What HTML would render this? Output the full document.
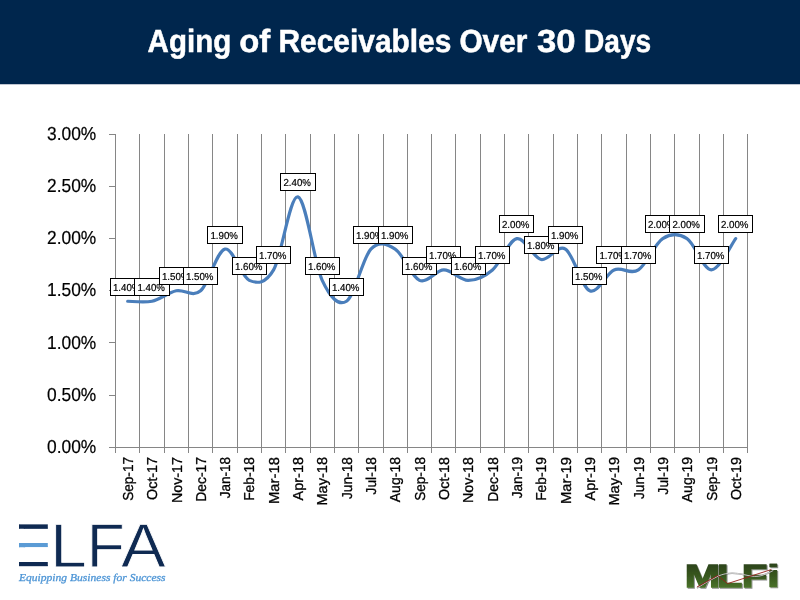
<!DOCTYPE html>
<html lang="en"><head><meta charset="utf-8">
<title>Aging of Receivables Over 30 Days</title>
<style>
html,body{margin:0;padding:0;background:#fff;}
body{width:800px;height:600px;overflow:hidden;position:relative;font-family:"Liberation Sans",sans-serif;}
#hdr{position:absolute;left:0;top:0;width:800px;height:84px;background:#00264d;}
svg{position:absolute;left:0;top:0;will-change:transform;}
svg text{font-family:"Liberation Sans",sans-serif;text-rendering:geometricPrecision;}
.ttl{font-weight:bold;font-size:32px;fill:#fff;stroke:#fff;stroke-width:0.5px;}
.yl{font-size:18.8px;fill:#000;stroke:#000;stroke-width:0.2px;}
.xl{font-size:14.4px;fill:#000;stroke:#000;stroke-width:0.3px;}
.dl{font-size:10.1px;fill:#000;stroke:#000;stroke-width:0.2px;}
.tag{font-family:"Liberation Serif",serif;font-style:italic;font-size:10.6px;fill:#4f96d6;stroke:#4f96d6;stroke-width:0.3px;}
</style></head><body>
<div id="hdr"></div>
<svg width="800" height="600" viewBox="0 0 800 600">
<rect x="0" y="84" width="800" height="1" fill="#8a96ab" opacity="0.55"/>
<g class="ttl">
<text x="147.6" y="52.1" textLength="83.6" lengthAdjust="spacingAndGlyphs">Aging</text>
<text x="239.2" y="52.1" textLength="31" lengthAdjust="spacingAndGlyphs">of</text>
<text x="278.4" y="52.1" textLength="173" lengthAdjust="spacingAndGlyphs">Receivables</text>
<text x="459.4" y="52.1" textLength="68" lengthAdjust="spacingAndGlyphs">Over</text>
<text x="537" y="52.1" textLength="38.6" lengthAdjust="spacingAndGlyphs">30</text>
<text x="584" y="52.1" textLength="67.2" lengthAdjust="spacingAndGlyphs">Days</text>
</g>
<g stroke="#868686" stroke-width="1" fill="none" shape-rendering="crispEdges">
<path d="M115.5 134V452.5M139.5 134V452.5M164.5 134V452.5M188.5 134V452.5M212.5 134V452.5M237.5 134V452.5M261.5 134V452.5M285.5 134V452.5M310.5 134V452.5M334.5 134V452.5M358.5 134V452.5M383.5 134V452.5M407.5 134V452.5M431.5 134V452.5M455.5 134V452.5M480.5 134V452.5M504.5 134V452.5M528.5 134V452.5M553.5 134V452.5M577.5 134V452.5M601.5 134V452.5M626.5 134V452.5M650.5 134V452.5M674.5 134V452.5M699.5 134V452.5M723.5 134V452.5M747.5 134V452.5"/>
<path d="M109 447.5H748"/>
<path d="M109 134.5H115.5M109 186.5H115.5M109 238.5H115.5M109 290.5H115.5M109 342.5H115.5M109 395.5H115.5"/>
</g>
<g class="yl" text-anchor="end">
<text x="96.3" y="139.9" textLength="49.2" lengthAdjust="spacingAndGlyphs">3.00%</text>
<text x="96.3" y="192.07" textLength="49.2" lengthAdjust="spacingAndGlyphs">2.50%</text>
<text x="96.3" y="244.23" textLength="49.2" lengthAdjust="spacingAndGlyphs">2.00%</text>
<text x="96.3" y="296.4" textLength="49.2" lengthAdjust="spacingAndGlyphs">1.50%</text>
<text x="96.3" y="348.57" textLength="49.2" lengthAdjust="spacingAndGlyphs">1.00%</text>
<text x="96.3" y="400.73" textLength="49.2" lengthAdjust="spacingAndGlyphs">0.50%</text>
<text x="96.3" y="452.9" textLength="49.2" lengthAdjust="spacingAndGlyphs">0.00%</text>
</g>
<g class="xl" text-anchor="end">
<text transform="translate(132.86 457.0) rotate(-90)" textLength="43.85" lengthAdjust="spacingAndGlyphs">Sep-17</text>
<text transform="translate(157.18 457.0) rotate(-90)" textLength="42.88" lengthAdjust="spacingAndGlyphs">Oct-17</text>
<text transform="translate(181.5 457.0) rotate(-90)" textLength="46.09" lengthAdjust="spacingAndGlyphs">Nov-17</text>
<text transform="translate(205.82 457.0) rotate(-90)" textLength="44.7" lengthAdjust="spacingAndGlyphs">Dec-17</text>
<text transform="translate(230.14 457.0) rotate(-90)" textLength="41.36" lengthAdjust="spacingAndGlyphs">Jan-18</text>
<text transform="translate(254.46 457.0) rotate(-90)" textLength="43.85" lengthAdjust="spacingAndGlyphs">Feb-18</text>
<text transform="translate(278.78 457.0) rotate(-90)" textLength="47" lengthAdjust="spacingAndGlyphs">Mar-18</text>
<text transform="translate(303.1 457.0) rotate(-90)" textLength="43.4" lengthAdjust="spacingAndGlyphs">Apr-18</text>
<text transform="translate(327.42 457.0) rotate(-90)" textLength="48.62" lengthAdjust="spacingAndGlyphs">May-18</text>
<text transform="translate(351.74 457.0) rotate(-90)" textLength="42.08" lengthAdjust="spacingAndGlyphs">Jun-18</text>
<text transform="translate(376.06 457.0) rotate(-90)" textLength="37.45" lengthAdjust="spacingAndGlyphs">Jul-18</text>
<text transform="translate(400.38 457.0) rotate(-90)" textLength="45.31" lengthAdjust="spacingAndGlyphs">Aug-18</text>
<text transform="translate(424.7 457.0) rotate(-90)" textLength="43.85" lengthAdjust="spacingAndGlyphs">Sep-18</text>
<text transform="translate(449.02 457.0) rotate(-90)" textLength="42.88" lengthAdjust="spacingAndGlyphs">Oct-18</text>
<text transform="translate(473.34 457.0) rotate(-90)" textLength="46.09" lengthAdjust="spacingAndGlyphs">Nov-18</text>
<text transform="translate(497.66 457.0) rotate(-90)" textLength="44.7" lengthAdjust="spacingAndGlyphs">Dec-18</text>
<text transform="translate(521.98 457.0) rotate(-90)" textLength="41.36" lengthAdjust="spacingAndGlyphs">Jan-19</text>
<text transform="translate(546.3 457.0) rotate(-90)" textLength="43.85" lengthAdjust="spacingAndGlyphs">Feb-19</text>
<text transform="translate(570.62 457.0) rotate(-90)" textLength="47" lengthAdjust="spacingAndGlyphs">Mar-19</text>
<text transform="translate(594.94 457.0) rotate(-90)" textLength="43.4" lengthAdjust="spacingAndGlyphs">Apr-19</text>
<text transform="translate(619.26 457.0) rotate(-90)" textLength="48.62" lengthAdjust="spacingAndGlyphs">May-19</text>
<text transform="translate(643.58 457.0) rotate(-90)" textLength="42.08" lengthAdjust="spacingAndGlyphs">Jun-19</text>
<text transform="translate(667.9 457.0) rotate(-90)" textLength="37.45" lengthAdjust="spacingAndGlyphs">Jul-19</text>
<text transform="translate(692.22 457.0) rotate(-90)" textLength="45.31" lengthAdjust="spacingAndGlyphs">Aug-19</text>
<text transform="translate(716.54 457.0) rotate(-90)" textLength="43.85" lengthAdjust="spacingAndGlyphs">Sep-19</text>
<text transform="translate(740.86 457.0) rotate(-90)" textLength="42.88" lengthAdjust="spacingAndGlyphs">Oct-19</text>
</g>
<path d="M127.66 301.23C131.71 301.23 143.87 302.97 151.98 301.23C160.09 299.49 168.19 292.54 176.3 290.8C184.41 289.06 192.51 297.76 200.62 290.8C208.73 283.84 216.83 250.81 224.94 249.07C233.05 247.33 241.15 276.89 249.26 280.37C257.37 283.84 265.47 283.84 273.58 269.93C281.69 256.02 289.79 195.16 297.9 196.9C306.01 198.64 314.11 262.98 322.22 280.37C330.33 297.76 338.43 306.45 346.54 301.23C354.65 296.02 362.75 257.76 370.86 249.07C378.97 240.37 387.07 243.85 395.18 249.07C403.29 254.28 411.39 276.89 419.5 280.37C427.61 283.84 435.71 269.93 443.82 269.93C451.93 269.93 460.03 280.37 468.14 280.37C476.25 280.37 484.35 276.89 492.46 269.93C500.57 262.98 508.67 240.37 516.78 238.63C524.89 236.89 532.99 257.76 541.1 259.5C549.21 261.24 557.31 243.85 565.42 249.07C573.53 254.28 581.63 287.32 589.74 290.8C597.85 294.28 605.95 273.41 614.06 269.93C622.17 266.46 630.27 275.15 638.38 269.93C646.49 264.72 654.59 243.85 662.7 238.63C670.81 233.42 678.91 233.42 687.02 238.63C695.13 243.85 703.23 269.93 711.34 269.93C719.45 269.93 731.61 243.85 735.66 238.63" fill="none" stroke="#4a7ebb" stroke-width="3.2" stroke-linecap="round" stroke-linejoin="round"/>
<g class="dl" text-anchor="middle">
<rect x="110.5" y="278.5" width="34" height="17" fill="#fff" stroke="#000" stroke-width="1"/>
<text x="126.7" y="291.3" textLength="27.6" lengthAdjust="spacingAndGlyphs">1.40%</text>
<rect x="134.5" y="278.5" width="35" height="17" fill="#fff" stroke="#000" stroke-width="1"/>
<text x="151.2" y="291.3" textLength="27.6" lengthAdjust="spacingAndGlyphs">1.40%</text>
<rect x="159.5" y="267.5" width="34" height="17" fill="#fff" stroke="#000" stroke-width="1"/>
<text x="175.7" y="280.3" textLength="27.6" lengthAdjust="spacingAndGlyphs">1.50%</text>
<rect x="183.5" y="267.5" width="34" height="17" fill="#fff" stroke="#000" stroke-width="1"/>
<text x="199.7" y="280.3" textLength="27.6" lengthAdjust="spacingAndGlyphs">1.50%</text>
<rect x="207.5" y="226.5" width="35" height="17" fill="#fff" stroke="#000" stroke-width="1"/>
<text x="224.2" y="239.3" textLength="27.6" lengthAdjust="spacingAndGlyphs">1.90%</text>
<rect x="232.5" y="257.5" width="34" height="17" fill="#fff" stroke="#000" stroke-width="1"/>
<text x="248.7" y="270.3" textLength="27.6" lengthAdjust="spacingAndGlyphs">1.60%</text>
<rect x="256.5" y="246.5" width="34" height="17" fill="#fff" stroke="#000" stroke-width="1"/>
<text x="272.7" y="259.3" textLength="27.6" lengthAdjust="spacingAndGlyphs">1.70%</text>
<rect x="280.5" y="173.5" width="35" height="17" fill="#fff" stroke="#000" stroke-width="1"/>
<text x="297.2" y="186.3" textLength="27.6" lengthAdjust="spacingAndGlyphs">2.40%</text>
<rect x="305.5" y="257.5" width="34" height="17" fill="#fff" stroke="#000" stroke-width="1"/>
<text x="321.7" y="270.3" textLength="27.6" lengthAdjust="spacingAndGlyphs">1.60%</text>
<rect x="329.5" y="278.5" width="34" height="17" fill="#fff" stroke="#000" stroke-width="1"/>
<text x="345.7" y="291.3" textLength="27.6" lengthAdjust="spacingAndGlyphs">1.40%</text>
<rect x="353.5" y="226.5" width="34" height="17" fill="#fff" stroke="#000" stroke-width="1"/>
<text x="369.7" y="239.3" textLength="27.6" lengthAdjust="spacingAndGlyphs">1.90%</text>
<rect x="378.5" y="226.5" width="34" height="17" fill="#fff" stroke="#000" stroke-width="1"/>
<text x="394.7" y="239.3" textLength="27.6" lengthAdjust="spacingAndGlyphs">1.90%</text>
<rect x="402.5" y="257.5" width="34" height="17" fill="#fff" stroke="#000" stroke-width="1"/>
<text x="418.7" y="270.3" textLength="27.6" lengthAdjust="spacingAndGlyphs">1.60%</text>
<rect x="426.5" y="246.5" width="34" height="17" fill="#fff" stroke="#000" stroke-width="1"/>
<text x="442.7" y="259.3" textLength="27.6" lengthAdjust="spacingAndGlyphs">1.70%</text>
<rect x="451.5" y="257.5" width="34" height="17" fill="#fff" stroke="#000" stroke-width="1"/>
<text x="467.7" y="270.3" textLength="27.6" lengthAdjust="spacingAndGlyphs">1.60%</text>
<rect x="475.5" y="246.5" width="34" height="17" fill="#fff" stroke="#000" stroke-width="1"/>
<text x="491.7" y="259.3" textLength="27.6" lengthAdjust="spacingAndGlyphs">1.70%</text>
<rect x="499.5" y="215.5" width="34" height="17" fill="#fff" stroke="#000" stroke-width="1"/>
<text x="515.7" y="228.3" textLength="27.6" lengthAdjust="spacingAndGlyphs">2.00%</text>
<rect x="524.5" y="236.5" width="34" height="17" fill="#fff" stroke="#000" stroke-width="1"/>
<text x="540.7" y="249.3" textLength="27.6" lengthAdjust="spacingAndGlyphs">1.80%</text>
<rect x="548.5" y="226.5" width="34" height="17" fill="#fff" stroke="#000" stroke-width="1"/>
<text x="564.7" y="239.3" textLength="27.6" lengthAdjust="spacingAndGlyphs">1.90%</text>
<rect x="572.5" y="267.5" width="34" height="17" fill="#fff" stroke="#000" stroke-width="1"/>
<text x="588.7" y="280.3" textLength="27.6" lengthAdjust="spacingAndGlyphs">1.50%</text>
<rect x="596.5" y="246.5" width="35" height="17" fill="#fff" stroke="#000" stroke-width="1"/>
<text x="613.2" y="259.3" textLength="27.6" lengthAdjust="spacingAndGlyphs">1.70%</text>
<rect x="621.5" y="246.5" width="34" height="17" fill="#fff" stroke="#000" stroke-width="1"/>
<text x="637.7" y="259.3" textLength="27.6" lengthAdjust="spacingAndGlyphs">1.70%</text>
<rect x="645.5" y="215.5" width="34" height="17" fill="#fff" stroke="#000" stroke-width="1"/>
<text x="661.7" y="228.3" textLength="27.6" lengthAdjust="spacingAndGlyphs">2.00%</text>
<rect x="669.5" y="215.5" width="35" height="17" fill="#fff" stroke="#000" stroke-width="1"/>
<text x="686.2" y="228.3" textLength="27.6" lengthAdjust="spacingAndGlyphs">2.00%</text>
<rect x="694.5" y="246.5" width="34" height="17" fill="#fff" stroke="#000" stroke-width="1"/>
<text x="710.7" y="259.3" textLength="27.6" lengthAdjust="spacingAndGlyphs">1.70%</text>
<rect x="718.5" y="215.5" width="34" height="17" fill="#fff" stroke="#000" stroke-width="1"/>
<text x="734.7" y="228.3" textLength="27.6" lengthAdjust="spacingAndGlyphs">2.00%</text>
</g>
<g id="elfa">
<defs><clipPath id="ec"><rect x="19" y="524.5" width="28.8" height="4.2"/><rect x="19" y="543" width="28.8" height="4.2"/><rect x="19" y="562" width="28.8" height="4.2"/><rect x="54" y="515" width="123" height="56"/></clipPath><linearGradient id="eg" gradientUnits="userSpaceOnUse" x1="0" y1="524" x2="0" y2="567"><stop offset="0" stop-color="#0f2a52"/><stop offset="0.36" stop-color="#0f2a52"/><stop offset="0.36" stop-color="#5b9bd5"/><stop offset="0.62" stop-color="#5b9bd5"/><stop offset="0.62" stop-color="#0f2a52"/><stop offset="1" stop-color="#0f2a52"/></linearGradient></defs>
<text clip-path="url(#ec)" y="566.55" font-size="62.04" fill="#0f2a52" stroke="#fff" stroke-width="0.8"><tspan x="13.7" y="566.4" font-size="61.5" fill="url(#eg)" stroke="url(#eg)" stroke-width="1.4">E</tspan><tspan x="50.3" y="566.55" textLength="36.56" lengthAdjust="spacingAndGlyphs">L</tspan><tspan x="86.8" y="566.55" textLength="38.02" lengthAdjust="spacingAndGlyphs">F</tspan><tspan x="121" y="566.55" textLength="44.73" lengthAdjust="spacingAndGlyphs">A</tspan></text>
<text class="tag" x="19" y="580.6" textLength="146.6" lengthAdjust="spacingAndGlyphs">Equipping Business for Success</text>
</g>
<defs><linearGradient id="gg" x1="0" y1="0" x2="0" y2="1"><stop offset="0" stop-color="#263a1a"/><stop offset="0.5" stop-color="#38571f"/><stop offset="1" stop-color="#52802f"/></linearGradient><filter id="sh" x="-5%" y="-10%" width="112%" height="130%"><feGaussianBlur in="SourceAlpha" stdDeviation="0.6" result="b"/><feOffset in="b" dx="1" dy="1" result="o"/><feComponentTransfer in="o" result="s"><feFuncA type="linear" slope="0.45"/></feComponentTransfer><feMerge><feMergeNode in="s"/><feMergeNode in="SourceGraphic"/></feMerge></filter></defs>
<g id="mlfi" style="font-family:'DejaVu Sans','Liberation Sans',sans-serif;font-weight:bold;font-size:32px">
<text y="587" fill="url(#gg)" stroke="url(#gg)" stroke-width="1.3" filter="url(#sh)"><tspan x="684.8" textLength="35.34" lengthAdjust="spacingAndGlyphs">M</tspan><tspan x="717.1" textLength="25.28" lengthAdjust="spacingAndGlyphs">L</tspan><tspan x="741.7" textLength="25.57" lengthAdjust="spacingAndGlyphs">F</tspan><tspan x="765.9" textLength="14.71" lengthAdjust="spacingAndGlyphs" stroke-width="0.3">i</tspan></text>
<path d="M697 588C704 583.6 711 579.6 718.2 576.1C723 573.9 727.5 573.2 732 573.2C738 573.3 743 574.4 747 575.3C752 576.5 757 577 762 575.5C766 574.2 770 572.3 773.3 570.5" fill="none" stroke="#3a3a3a" stroke-width="1.5" opacity="0.55"/>
<path d="M697 588C704 583.6 711 579.6 718.2 576.1C723 573.9 727.5 573.2 732 573.2C738 573.3 743 574.4 747 575.3C752 576.5 757 577 762 575.5C766 574.2 770 572.3 773.3 570.5" fill="none" stroke="#e2e2e2" stroke-width="0.8"/>
<path d="M697 587L717.6 575.5L727.6 583.6L771.4 569.5" fill="none" stroke="#96201c" stroke-width="0.9" stroke-linejoin="round"/>
</g>
</svg>
</body></html>
